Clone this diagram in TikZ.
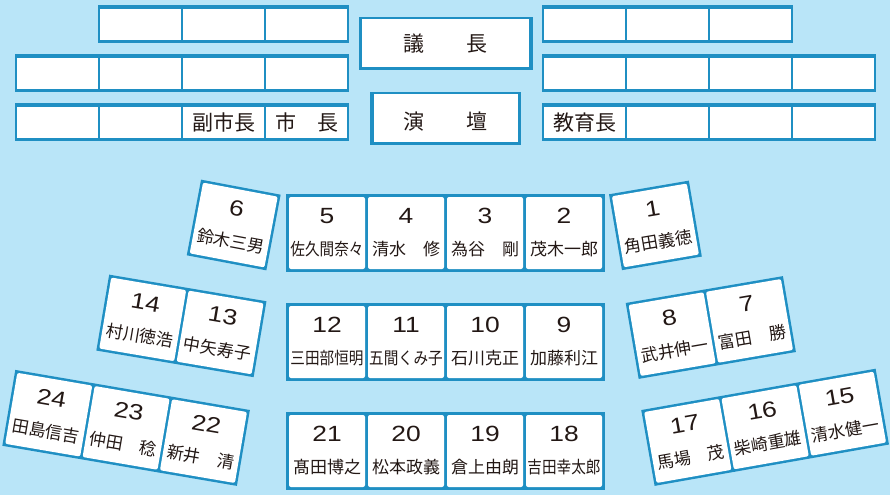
\documentclass[tikz,border=0pt]{standalone}
\usepackage{fontspec}
\setmainfont{Noto Sans CJK JP}
\newfontfamily\numfont[FakeStretch=1.2]{Liberation Sans}
\newfontfamily\condfont[FakeStretch=0.86]{Noto Sans CJK JP}
\definecolor{bgblue}{HTML}{B9E5F8}
\definecolor{lineblue}{HTML}{1F8FC3}
\definecolor{ink}{HTML}{231815}
\tikzset{
 seat/.style={rectangle, fill=white, rounded corners=2pt, minimum width=76pt, minimum height=72pt, inner sep=0pt},
 num/.style={inner sep=0pt, text=ink, font=\numfont\fontsize{22}{22}\selectfont},
 nm/.style={inner sep=0pt, text=ink, font=\fontsize{17}{17}\selectfont},
 nmc/.style={inner sep=0pt, text=ink, font=\condfont\fontsize{17}{17}\selectfont},
 topcell/.style={rectangle, fill=white, minimum width=81.3pt, minimum height=31.3pt, inner sep=0pt, text=ink, font=\fontsize{21}{21}\selectfont},
 lbl/.style={inner sep=0pt, text=ink, font=\fontsize{21}{21}\selectfont},
 band/.style={fill=lineblue},
}
\newcommand\seatat[6]{%
 \node[seat] (#1) at (#2,#3) {};
 \node[num] (#1n) at (#2,#3-17) {#4};
 \node[#6] (#1m) at (#2,#3+16.5) {#5};
}
\begin{document}
\begin{tikzpicture}[x=1pt,y=-1pt]
\useasboundingbox (0,0) rectangle (890,495);
\fill[bgblue] (0,0) rectangle (890,495);

% ---- top left rows
\fill[band] (98.15,5) rectangle (348.85,43);
\foreach \x [count=\i] in {140.5,223.5,306.5} \node[topcell] (LA\i) at (\x,24.65) {};
\fill[band] (15.15,54) rectangle (348.85,92);
\foreach \x [count=\i] in {57.5,140.5,223.5,306.5} \node[topcell] (LB\i) at (\x,73.65) {};
\fill[band] (15.15,103) rectangle (348.85,141);
\node[topcell] (LC1) at (57.5,122.65) {};
\node[topcell] (LC2) at (140.5,122.65) {};
\node[topcell] (LC3) at (223.5,122.65) {副市長};
\node[topcell] (LC4) at (306.5,122.65) {市　長};

% ---- top right rows
\fill[band] (542.15,5) rectangle (792.85,43);
\foreach \x [count=\i] in {584.5,667.5,750.5} \node[topcell] (RA\i) at (\x,24.65) {};
\fill[band] (542.15,54) rectangle (875.85,92);
\foreach \x [count=\i] in {584.5,667.5,750.5,833.5} \node[topcell] (RB\i) at (\x,73.65) {};
\fill[band] (542.15,103) rectangle (875.85,141);
\node[topcell] (RC1) at (584.5,122.65) {教育長};
\foreach \x [count=\i from 2] in {667.5,750.5,833.5} \node[topcell] (RC\i) at (\x,122.65) {};

% ---- chair and podium
\fill[band] (359,16.7) rectangle (532.7,70);
\node[fill=white, minimum width=166.7pt, minimum height=47.7pt, inner sep=0pt] (gichoBox) at (445.65,42.85) {};
\node[lbl] (gicho) at (445.7,43.8) {議　　長};
\fill[band] (370,91.7) rectangle (520.7,145);
\node[fill=white, minimum width=143.7pt, minimum height=48pt, inner sep=0pt] (endanBox) at (445.85,118.3) {};
\node[lbl] (endan) at (445.6,121.7) {演　　壇};

% ---- centre blocks
\fill[band] (286,194) rectangle (605,272);
\seatat{s5}{327}{233}{5}{佐久間奈々}{nmc}
\seatat{s4}{406}{233}{4}{清水　修}{nm}
\seatat{s3}{485}{233}{3}{為谷　剛}{nm}
\seatat{s2}{564}{233}{2}{茂木一郎}{nm}

\fill[band] (286,303) rectangle (605,381);
\seatat{s12}{327}{342}{12}{三田部恒明}{nmc}
\seatat{s11}{406}{342}{11}{五間くみ子}{nmc}
\seatat{s10}{485}{342}{10}{石川克正}{nm}
\seatat{s9}{564}{342}{9}{加藤利江}{nm}

\fill[band] (286,412) rectangle (605,490);
\seatat{s21}{327}{451}{21}{髙田博之}{nm}
\seatat{s20}{406}{451}{20}{松本政義}{nm}
\seatat{s19}{485}{451}{19}{倉上由朗}{nm}
\seatat{s18}{564}{451}{18}{吉田幸太郎}{nmc}

% ---- tilted groups
\begin{scope}[shift={(233.7,225)}, rotate=-10.7, transform shape]
 \fill[band] (-40.5,-38.5) rectangle (40.5,38.5);
 \seatat{s6}{0}{0}{6}{鈴木三男}{nm}
\end{scope}
\begin{scope}[shift={(655.4,225.4)}, rotate=9.7, transform shape]
 \fill[band] (-40.5,-38.5) rectangle (40.5,38.5);
 \seatat{s1}{0}{0}{1}{角田義徳}{nm}
\end{scope}
\begin{scope}[shift={(181.4,325.9)}, rotate=-9.6, transform shape]
 \fill[band] (-79.75,-38.5) rectangle (79.75,38.5);
 \seatat{s14}{-39.25}{0}{14}{村川徳浩}{nm}
 \seatat{s13}{39.25}{0}{13}{中矢寿子}{nm}
\end{scope}
\begin{scope}[shift={(710.8,327.5)}, rotate=9.7, transform shape]
 \fill[band] (-79.75,-38.5) rectangle (79.75,38.5);
 \seatat{s8}{-39.25}{0}{8}{武井伸一}{nm}
 \seatat{s7}{39.25}{0}{7}{富田　勝}{nm}
\end{scope}
\begin{scope}[shift={(126.1,427.9)}, rotate=-9.7, transform shape]
 \fill[band] (-119,-38.5) rectangle (119,38.5);
 \seatat{s24}{-78.5}{0}{24}{田島信吉}{nm}
 \seatat{s23}{0}{0}{23}{仲田　稔}{nm}
 \seatat{s22}{78.5}{0}{22}{新井　清}{nm}
\end{scope}
\begin{scope}[shift={(765.1,427.3)}, rotate=10, transform shape]
 \fill[band] (-119,-38.5) rectangle (119,38.5);
 \seatat{s17}{-78.5}{0}{17}{馬場　茂}{nm}
 \seatat{s16}{0}{0}{16}{柴崎重雄}{nm}
 \seatat{s15}{78.5}{0}{15}{清水健一}{nm}
\end{scope}
\end{tikzpicture}
\end{document}
